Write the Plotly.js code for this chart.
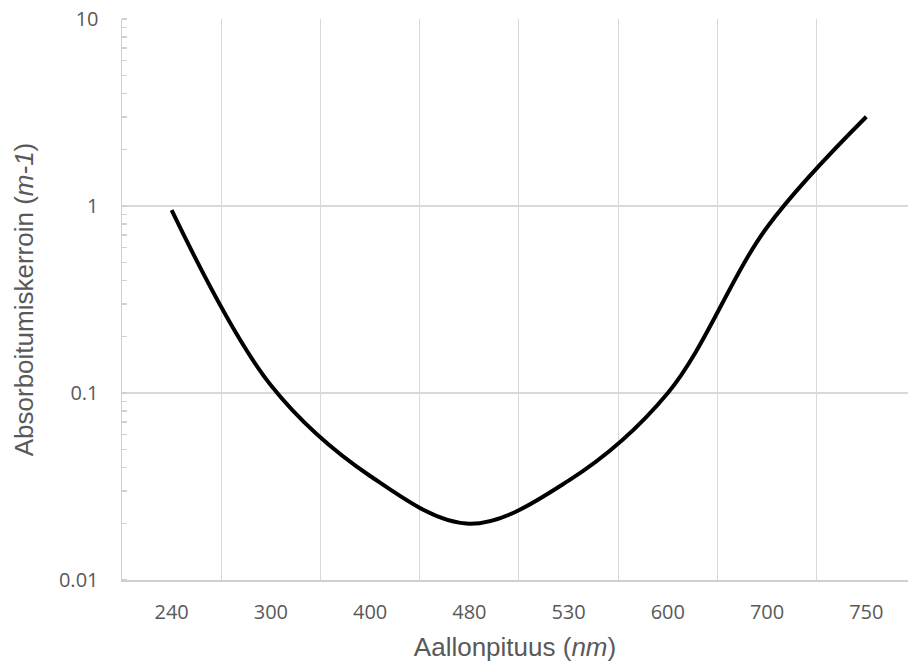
<!DOCTYPE html>
<html>
<head>
<meta charset="utf-8">
<script src="https://cdn.plot.ly/plotly-3.0.1.min.js"></script>
<style>html,body{margin:0;padding:0;overflow:hidden;background:#fff;}</style>
</head>
<body>
<div id="chart" style="width:908px;height:663px;"></div>
<script>
const wavelengths = ["240", "300", "400", "480", "530", "600", "700", "750"];
const absorption = [0.95, 0.11, 0.036, 0.020, 0.034, 0.10, 0.77, 3.0];
const yTickVals = [0.01, 0.1, 1, 10];
const yTickText = ["0.01", "0.1", "1", "10"];

const trace = {
  x: wavelengths,
  y: absorption,
  type: 'scatter',
  mode: 'lines',
  line: {color: '#000000', width: 4, shape: 'spline', smoothing: 1},
  hoverinfo: 'x+y'
};

const layout = {
  width: 908,
  height: 663,
  margin: {l: 122, r: 0, t: 19, b: 83},
  paper_bgcolor: '#ffffff',
  plot_bgcolor: '#ffffff',
  showlegend: false,
  xaxis: {
    type: 'category',
    range: [-0.5, 7.42],
    tickson: 'boundaries',
    ticks: '',
    showgrid: true,
    gridcolor: '#d9d9d9',
    gridwidth: 1,
    showline: true,
    linecolor: '#d0d0d0',
    linewidth: 1.5,
    zeroline: false,
    tickfont: {family: 'Open Sans, sans-serif', size: 20, color: '#595959'},
    ticklabelstandoff: 13,
    title: {text: 'Aallonpituus (<i>nm</i>)', font: {family: 'Liberation Sans, Arial, sans-serif', size: 26, color: '#595959'}, standoff: 14}
  },
  yaxis: {
    type: 'log',
    range: [-2, 1],
    tickvals: yTickVals,
    ticktext: yTickText,
    ticks: '',
    showgrid: true,
    gridcolor: '#d9d9d9',
    gridwidth: 1.5,
    showline: true,
    linecolor: '#d0d0d0',
    linewidth: 1.5,
    zeroline: false,
    tickfont: {family: 'Open Sans, sans-serif', size: 20, color: '#595959'},
    ticklabelstandoff: 18,
    minor: {dtick: 'D1', ticks: 'inside', ticklen: 5, tickcolor: '#d0d0d0', tickwidth: 1.5, showgrid: false},
    title: {text: 'Absorboitumiskerroin (<i>m-1</i>)', font: {family: 'Liberation Sans, Arial, sans-serif', size: 26, color: '#595959'}, standoff: 18}
  }
};

Plotly.newPlot('chart', [trace], layout, {displayModeBar: false, staticPlot: true});
</script>
</body>
</html>
